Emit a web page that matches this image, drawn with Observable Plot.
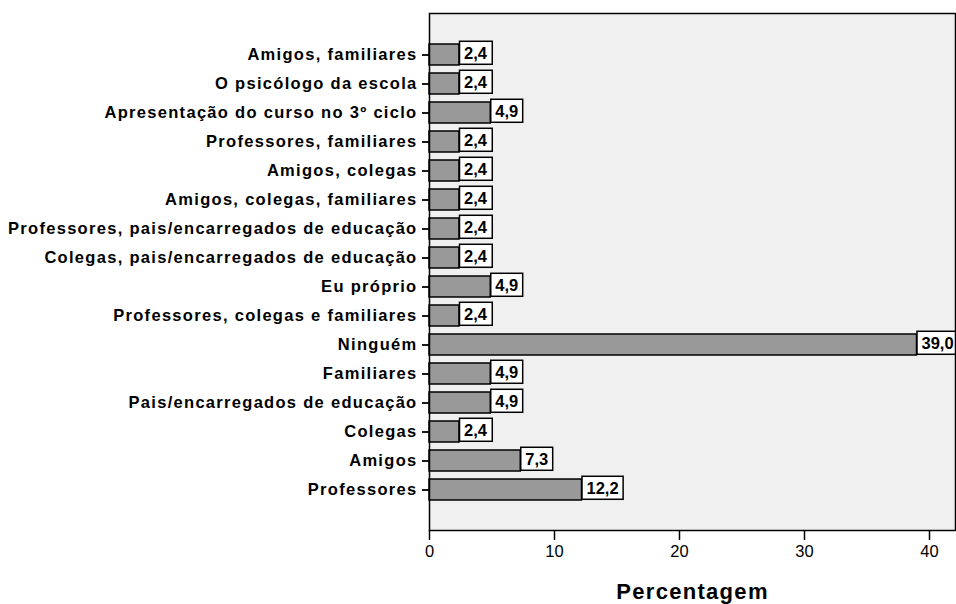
<!DOCTYPE html>
<html>
<head>
<meta charset="utf-8">
<script src="https://cdn.jsdelivr.net/npm/d3@7"></script>
<script src="https://cdn.jsdelivr.net/npm/@observablehq/plot@0.6"></script>
<style>
  html, body { margin: 0; padding: 0; background: #fff; }
  #chart svg { font-family: "Liberation Sans", Arial, Helvetica, sans-serif; display: block; }
  #chart [aria-label="y-axis tick label"] { font-weight: bold; letter-spacing: 1.3px; font-size: 16.5px; }
  #chart [aria-label="x-axis tick label"] { font-size: 16.5px; }
  #chart [aria-label="x-axis label"] { font-weight: bold; letter-spacing: 1.3px; font-size: 22px; }
  #chart [aria-label="text"] { font-weight: bold; font-size: 16.5px; }
</style>
</head>
<body>
<div id="chart"></div>
<script>
const categories = [
  "Amigos, familiares",
  "O psicólogo da escola",
  "Apresentação do curso no 3º ciclo",
  "Professores, familiares",
  "Amigos, colegas",
  "Amigos, colegas, familiares",
  "Professores, pais/encarregados de educação",
  "Colegas, pais/encarregados de educação",
  "Eu próprio",
  "Professores, colegas e familiares",
  "Ninguém",
  "Familiares",
  "Pais/encarregados de educação",
  "Colegas",
  "Amigos",
  "Professores"
];
const values = [2.4, 2.4, 4.9, 2.4, 2.4, 2.4, 2.4, 2.4, 4.9, 2.4, 39.0, 4.9, 4.9, 2.4, 7.3, 12.2];
const xTicks = [0, 10, 20, 30, 40];
const xLabel = "Percentagem";

const data = categories.map((c, i) => ({category: c, value: values[i]}));
const fmt = v => v.toFixed(1).replace(".", ",");

const chart = Plot.plot({
  width: 956,
  height: 604,
  marginTop: 13,
  marginBottom: 74,
  marginLeft: 429,
  marginRight: 1,
  x: {domain: [0, 42.08]},
  y: {domain: categories, range: [42.7, 500.8], paddingInner: 0.26, paddingOuter: 0},
  marks: [
    Plot.frame({fill: "#f0f0f0", stroke: null}),
    Plot.barX(data, {y: "category", x: "value", fill: "#999999", stroke: "black", strokeWidth: 1.5}),
    Plot.text(data, {y: "category", x: "value", text: d => fmt(d.value), textAnchor: "start", dx: 4.5, dy: -1.5, fill: "black"}),
    Plot.frame({stroke: "black", strokeWidth: 1.5}),
    Plot.axisY({tickSize: 7, tickPadding: 5, strokeWidth: 1.8, label: null}),
    Plot.axisX({ticks: xTicks, tickSize: 10, tickPadding: 5, strokeWidth: 1.5, tickFormat: d => String(d),
      label: xLabel, labelAnchor: "center", labelArrow: "none", labelOffset: 68})
  ]
});
document.getElementById("chart").append(chart);

// draw white boxes behind value labels
const svgNS = "http://www.w3.org/2000/svg";
chart.querySelectorAll('[aria-label="text"] text').forEach(t => {
  const b = t.getBBox();
  const r = document.createElementNS(svgNS, "rect");
  r.setAttribute("x", b.x - 4.5);
  r.setAttribute("y", b.y - 2.5);
  r.setAttribute("width", b.width + 9);
  r.setAttribute("height", b.height + 5);
  r.setAttribute("fill", "white");
  r.setAttribute("stroke", "black");
  r.setAttribute("stroke-width", "1.5");
  if (t.getAttribute("transform")) r.setAttribute("transform", t.getAttribute("transform"));
  t.parentNode.insertBefore(r, t);
});
</script>
</body>
</html>
